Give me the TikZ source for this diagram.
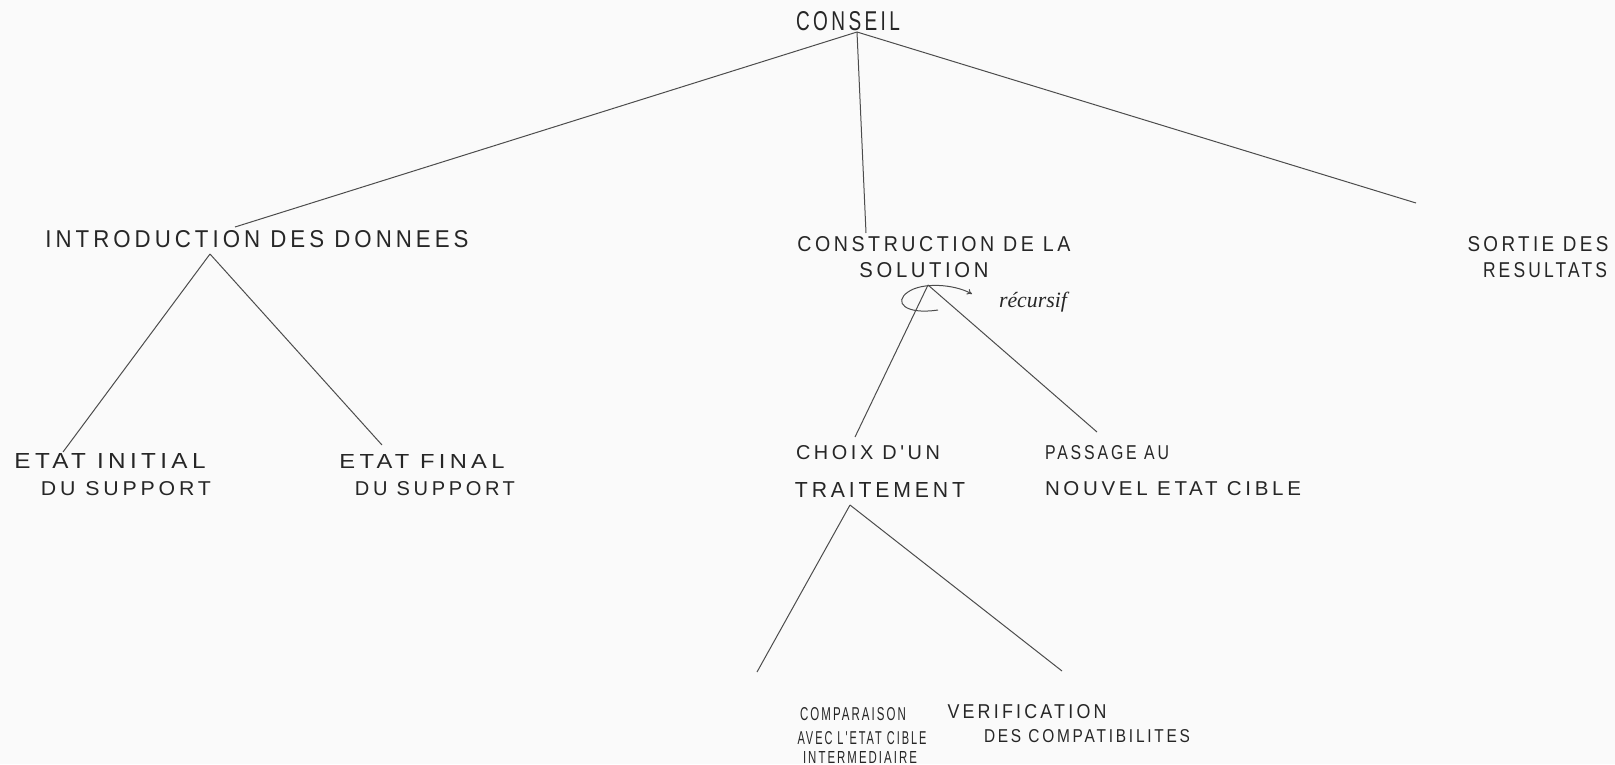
\documentclass[tikz,border=0pt]{standalone}
\usepackage{fontspec}
\usepackage{graphicx}
\usetikzlibrary{arrows.meta}
\newfontfamily\handfont[LetterSpace=18]{Liberation Sans}
\newfontfamily\notefont{Liberation Serif}
% hand-lettered caption: width, cap height, text
\newcommand\hw[3]{\resizebox{#1pt}{#2pt}{\handfont #3}}
\begin{document}
\begin{tikzpicture}[x=1pt,y=-1pt,
  lbl/.style={inner sep=0pt, text=black!85},
  link/.style={draw=black!70, line width=1pt},
  loop/.style={draw=black!70, line width=1pt, -{To[length=5pt,width=6pt]}}]
\fill[white!96!gray] (0,0) rectangle (1615,764);
\useasboundingbox (0,0) rectangle (1615,764);

% level 0
\node[lbl] (conseil) at (848,21) {\hw{104}{19}{CONSEIL}};

% level 1
\node[lbl] (intro) at (257,239) {\hw{423}{17}{INTRODUCTION DES DONNEES}};
\node[lbl] (constr1) at (934,244) {\hw{273}{15}{CONSTRUCTION DE LA}};
\node[lbl] (constr2) at (924,270) {\hw{129}{15}{SOLUTION}};
\node[lbl] (sortie1) at (1538,244) {\hw{141}{15}{SORTIE DES}};
\node[lbl] (sortie2) at (1545,270) {\hw{124}{15}{RESULTATS}};

% level 2
\node[lbl] (init1) at (110,461) {\hw{191}{15}{ETAT INITIAL}};
\node[lbl] (init2) at (126,489) {\hw{170}{14}{DU SUPPORT}};
\node[lbl] (final1) at (422,461) {\hw{165}{14}{ETAT FINAL}};
\node[lbl] (final2) at (435,489) {\hw{160}{14}{DU SUPPORT}};
\node[lbl] (choix1) at (868,453) {\hw{144}{14}{CHOIX D'UN}};
\node[lbl] (choix2) at (880,490) {\hw{170}{15}{TRAITEMENT}};
\node[lbl] (pass1) at (1107,453) {\hw{124}{14}{PASSAGE AU}};
\node[lbl] (pass2) at (1173,489) {\hw{256}{14}{NOUVEL ETAT CIBLE}};

% level 3
\node[lbl] (comp1) at (853,714) {\hw{106}{13}{COMPARAISON}};
\node[lbl] (comp2) at (862,738) {\hw{129}{13}{AVEC L'ETAT CIBLE}};
\node[lbl] (comp3) at (860,757) {\hw{114}{12}{INTERMEDIAIRE}};
\node[lbl] (verif1) at (1027,712) {\hw{159}{14}{VERIFICATION}};
\node[lbl] (verif2) at (1087,736) {\hw{206}{13}{DES COMPATIBILITES}};

\node[lbl] (rec) at (1033,302) {\resizebox{68pt}{!}{\notefont\itshape récursif}};

% branching points
\coordinate (j0) at (857,32);
\coordinate (j1) at (210,254);
\coordinate (j2) at (928,285);
\coordinate (j3) at (850,505);

% connector ends
\coordinate (e-intro) at (235,227);
\coordinate (e-constr) at (866,233);
\coordinate (e-sortie) at (1416,203);
\coordinate (e-init) at (63,452);
\coordinate (e-final) at (382,445);
\coordinate (e-choix) at (855,437);
\coordinate (e-pass) at (1097,432);
\coordinate (e-comp) at (757,672);
\coordinate (e-verif) at (1062,671);

\draw[link] (j0) -- (e-intro);
\draw[link] (j0) -- (e-constr);
\draw[link] (j0) -- (e-sortie);
\draw[link] (j1) -- (e-init);
\draw[link] (j1) -- (e-final);
\draw[link] (j2) -- (e-choix);
\draw[link] (j2) -- (e-pass);
\draw[link] (j3) -- (e-comp);
\draw[link] (j3) -- (e-verif);

% recursion loop around the branching point
\draw[loop] (938,310) .. controls (905,315) and (893,302) .. (908,292)
  .. controls (922,282) and (954,284) .. (972,294);
\end{tikzpicture}
\end{document}
